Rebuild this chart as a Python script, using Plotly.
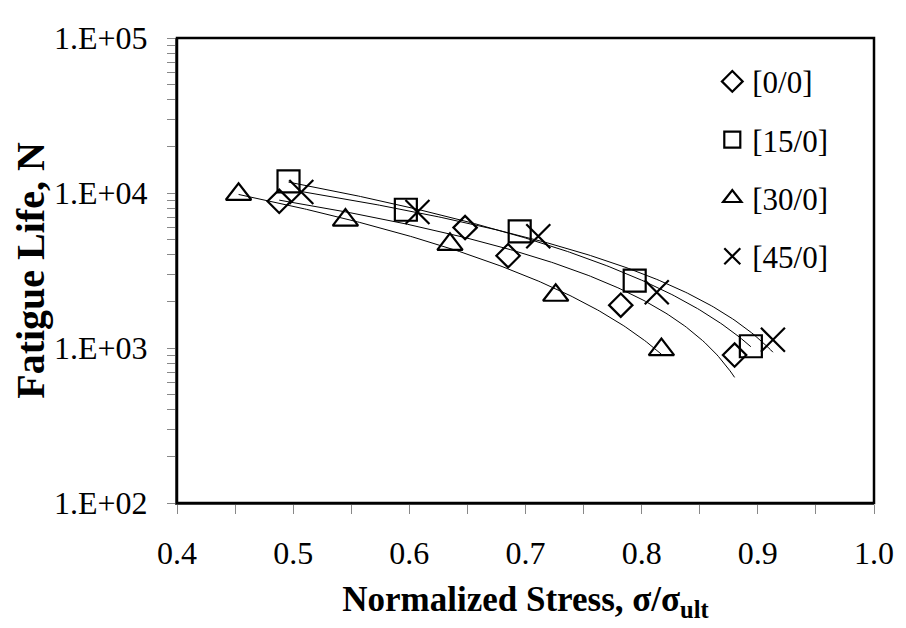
import numpy as np
import plotly.graph_objects as go

# ---- data ----
series_names = ["[0/0]", "[15/0]", "[30/0]", "[45/0]"]
x_00 = [0.488, 0.648, 0.685, 0.782, 0.880]
y_00 = [8840, 5980, 3940, 1890, 900]
x_15 = [0.496, 0.597, 0.695, 0.794, 0.894]
y_15 = [11880, 7800, 5650, 2720, 1026]
x_30 = [0.453, 0.545, 0.635, 0.726, 0.817]
y_30 = [9810, 6680, 4660, 2190, 977]
x_45 = [0.507, 0.607, 0.711, 0.813, 0.913]
y_45 = [10140, 7540, 5260, 2290, 1130]

y_tickvals = [1e2, 1e3, 1e4, 1e5]
y_ticktext = ["1.E+02", "1.E+03", "1.E+04", "1.E+05"]

xs = [x_00, x_15, x_30, x_45]
ys = [y_00, y_15, y_30, y_45]
symbols = ["diamond-open", "square-open", "triangle-up-open", "x-thin-open"]
sizes = [18, 22, 22, 24]

FONT = "Liberation Serif"
fig = go.Figure()

# trend lines (2nd order polynomial fit, drawn between min and max x of each series)
for x, y in zip(xs, ys):
    c = np.polyfit(x, y, 2)
    xx = np.linspace(min(x), max(x), 200)
    yy = np.polyval(c, xx)
    m = yy > 0
    fig.add_trace(go.Scatter(x=xx[m], y=yy[m], mode="lines",
                             line=dict(color="black", width=1),
                             showlegend=False, hoverinfo="skip"))

for i, (x, y) in enumerate(zip(xs, ys)):
    fig.add_trace(go.Scatter(x=x, y=y, mode="markers", name=series_names[i],
                             legendgroup=series_names[i],
                             marker=dict(symbol=symbols[i], size=sizes[i],
                                         color="black",
                                         line=dict(color="black", width=2.2))))

minor_y = [m * 10 ** e for e in (2, 3, 4) for m in range(2, 10)]

# page body has an 8px margin, so the figure is sized/positioned to compensate
fig.update_layout(
    width=898, height=620,
    margin=dict(l=163, r=24, t=16, b=125),
    paper_bgcolor="white", plot_bgcolor="white",
    font=dict(family=FONT, color="black", size=31),
    legend=dict(x=0.768, y=0.964, xanchor="left", yanchor="top",
                bgcolor="rgba(0,0,0,0)", tracegroupgap=15,
                font=dict(family=FONT, size=31), itemwidth=30),
    xaxis=dict(range=[0.4, 1.0], dtick=0.1, tick0=0.4, tickformat=".1f",
               showgrid=False, zeroline=False,
               showline=True, linecolor="#555555", linewidth=2,
               ticks="outside", ticklen=9, tickcolor="#888888", tickwidth=1,
               minor=dict(dtick=0.05, ticks="outside", ticklen=9,
                          tickcolor="#888888", showgrid=False),
               tickfont=dict(family=FONT, size=32), ticklabelstandoff=12,
               ticklabeloverflow="allow",
               title=dict(text="<b>Normalized Stress, σ/σ<sub>ult</sub></b>",
                          font=dict(family=FONT, size=35), standoff=16)),
    yaxis=dict(type="log", range=[2, 5], tickvals=y_tickvals, ticktext=y_ticktext,
               showgrid=False, zeroline=False,
               showline=True, linecolor="#555555", linewidth=2,
               ticks="outside", ticklen=8, tickcolor="#888888", tickwidth=1,
               minor=dict(tickvals=minor_y, ticks="outside", ticklen=8,
                          tickcolor="#888888", showgrid=False),
               tickfont=dict(family=FONT, size=32), ticklabelstandoff=13,
               ticklabeloverflow="allow",
               title=dict(text="<b>Fatigue Life, N</b>",
                          font=dict(family=FONT, size=40), standoff=6)),
    shapes=[dict(type="rect", xref="paper", yref="paper", x0=0, x1=1, y0=0, y1=1,
                 line=dict(color="black", width=2.5), fillcolor="rgba(0,0,0,0)",
                 layer="above")],
)

fig.write_html("out.html")
